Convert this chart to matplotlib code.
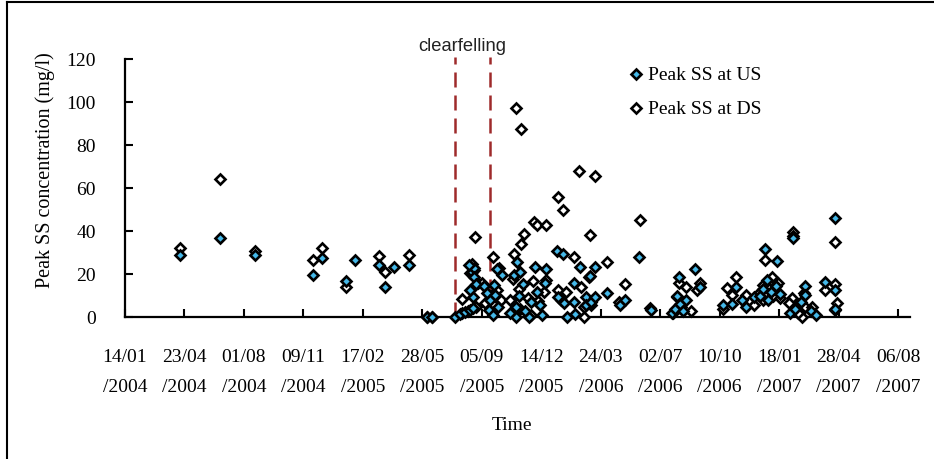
#!/usr/bin/env python3
# -*- coding: utf-8 -*-

'''
Peak SS concentration upstream / downstream, scatter on a day axis
'''

import numpy as np
import matplotlib
matplotlib.use('Agg')
from matplotlib import pyplot as plt
from matplotlib.lines import Line2D

# x values are days after 14/01/2004 (one tick every 100 days)
tick_labels = ['14/01\n/2004', '23/04\n/2004', '01/08\n/2004', '09/11\n/2004',
               '17/02\n/2005', '28/05\n/2005', '05/09\n/2005', '14/12\n/2005',
               '24/03\n/2006', '02/07\n/2006', '10/10\n/2006', '18/01\n/2007',
               '28/04\n/2007', '06/08\n/2007']
clearfell_days = [555, 614]

# Peak SS at US (mg/l)
us_day = [93, 159, 218, 316, 332, 372, 387, 427, 438, 453, 478, 508, 516, 555,
          563, 572, 580, 586, 584, 587, 587, 590, 586, 580, 578,
          603, 609, 614, 612, 634, 626, 621, 623, 628, 618,
          654, 659, 665, 670, 662, 657, 657, 679, 682, 690, 693, 701, 708, 707, 698, 673, 648,
          727, 736, 728, 738, 743, 755, 755, 765, 775, 775, 782, 784, 791, 791, 757,
          810, 833, 841, 865, 885,
          920, 925, 931, 934, 939, 959, 967, 944, 929,
          1006, 1021, 1028, 1045, 1037, 1057,
          1077, 1096, 1079, 1068, 1086, 1094, 1102, 1072, 1082,
          1124, 1144, 1144, 1119, 1136, 1127, 1153, 1162,
          1177, 1194, 1194, 1194]
us_ss = [28.8, 37.0, 28.8, 19.8, 27.7, 17.1, 26.8, 24.4, 14.3, 23.3, 24.4, 0, 0, 0,
         1.5, 2.5, 3.5, 4.5, 21.0, 23.0, 18.9, 15.5, 9.6, 12.7, 24.5,
         14.5, 11.2, 8.0, 3.4, 19.7, 22.3, 15.0, 10.4, 5.0, 1.0,
         19.7, 25.9, 21.0, 15.5, 10.0, 5.0, 0, 0, 7.0, 23.5, 12.0, 1.0, 22.3, 16.0, 5.5, 3.0, 2.0,
         30.8, 29.3, 9.6, 6.5, 0, 15.8, 7.3, 23.5, 9.6, 5.7, 19.2, 7.3, 23.5, 9.6, 1.5,
         11.2, 5.7, 8.0, 28.2, 3.4,
         1.9, 4.0, 18.9, 6.0, 3.0, 22.3, 14.0, 8.0, 10.0,
         5.7, 6.2, 14.2, 4.9, 8.0, 9.6,
         31.6, 26.3, 17.3, 10.0, 12.0, 14.5, 11.0, 13.0, 8.0,
         36.7, 14.5, 10.4, 1.9, 7.0, 4.0, 3.0, 1.0,
         16.6, 46.3, 12.7, 4.0]

# Peak SS at DS (mg/l)
ds_day = [93, 159, 218, 316, 332, 372, 427, 438, 478, 508, 516,
          567, 588, 584, 587, 580, 594, 566, 576, 591,
          600, 619, 629, 626, 620, 632, 606,
          654, 666, 671, 658, 666, 652, 662, 648, 665, 677, 686, 688, 692, 708, 708, 695, 682, 704,
          728, 736, 728, 755, 764, 766, 771, 771, 781, 782, 784, 791, 741, 733,
          810, 841, 866, 883, 831,
          928, 931, 944, 967, 922, 935, 951, 961,
          1013, 1020, 1028, 1005, 1045, 1057,
          1077, 1088, 1065, 1073, 1090, 1098, 1082, 1072, 1102,
          1124, 1124, 1122, 1144, 1139, 1131, 1116, 1156, 1141,
          1177, 1194, 1194, 1197, 1194]
ds_ss = [32.4, 64.5, 31.0, 26.8, 32.4, 14.0, 28.3, 21.0, 29.1, 0, 0,
         8.7, 37.2, 25.0, 22.0, 20.5, 15.8, 2.0, 3.0, 5.0,
         15.8, 27.9, 22.8, 12.7, 5.5, 8.0, 6.5,
         29.5, 34.1, 38.8, 97.4, 87.6, 18.0, 13.0, 8.0, 4.0, 9.0, 17.0, 44.5, 43.0, 43.0, 17.3, 7.5, 1.0, 12.0,
         55.8, 49.9, 12.7, 27.9, 68.0, 14.2, 0, 4.9, 18.9, 38.5, 5.7, 65.9, 12.0, 8.0,
         25.9, 15.5, 45.3, 4.5, 7.0,
         9.6, 15.8, 14.3, 15.8, 2.0, 5.0, 3.0, 12.5,
         13.5, 10.4, 18.9, 4.0, 10.4, 5.7,
         26.7, 18.9, 11.0, 8.0, 10.0, 16.0, 14.0, 15.0, 9.0,
         39.7, 38.0, 8.8, 4.9, 0.3, 2.0, 6.5, 5.0, 11.2,
         12.7, 35.2, 15.3, 6.5, 3.4]

GC_blue = '#45B8E8'
GC_red = '#9E2A2B'
serif = ['Liberation Serif', 'DejaVu Serif']

W, H = 934, 459
fig = plt.figure(figsize=(W / 100, H / 100), dpi=100)
# axes placed in pixels: x from 125 to 910, y from 317 (0) to 59 (120)
ax = fig.add_axes([125 / W, 1 - 317.3 / H, (910 - 125) / W, (317.3 - 59.3) / H])

ms, mew = 5.6, 1.9
ax.plot(ds_day, ds_ss, ls='none', marker='D', ms=ms, mfc='white', mec='black',
        mew=mew, clip_on=False, zorder=3)
ax.plot(us_day, us_ss, ls='none', marker='D', ms=ms, mfc=GC_blue, mec='black',
        mew=mew, clip_on=False, zorder=4)

for d in clearfell_days:
    ax.plot([d, d], [0, 121.3], color=GC_red, lw=1.8, dashes=(6, 3.2),
            clip_on=False, zorder=2)
fig.text(462 / W, 1 - 50.7 / H, 'clearfelling', ha='center', va='baseline',
         fontsize=13.2, family=['Liberation Sans', 'DejaVu Sans'], color='#222222')

ax.set_xlim(0, 1320)
ax.set_ylim(0, 120)
ax.set_xticks(np.arange(0, 1301, 100))
ax.set_xticklabels(tick_labels, linespacing=2.0)
ax.set_yticks(np.arange(0, 121, 20))
for lab in ax.get_xticklabels() + ax.get_yticklabels():
    lab.set_family(serif)
    lab.set_fontsize(14)
ax.tick_params(axis='both', direction='in', length=6, width=1.5, colors='black')
ax.tick_params(axis='x', pad=23)
ax.tick_params(axis='y', pad=21)
for s in ['top', 'right']:
    ax.spines[s].set_visible(False)
for s in ['left', 'bottom']:
    ax.spines[s].set_linewidth(1.6)

fig.text(45 / W, 1 - 170 / H, 'Peak SS concentration (mg/l)', rotation=90,
         ha='center', va='center', fontsize=14.5, family=serif)
fig.text(512 / W, 1 - 425 / H, 'Time', ha='center', va='center',
         fontsize=14, family=serif)

handles = [Line2D([], [], ls='none', marker='D', ms=ms, mfc=GC_blue, mec='black', mew=mew),
           Line2D([], [], ls='none', marker='D', ms=ms, mfc='white', mec='black', mew=mew)]
fig.legend(handles, ['Peak SS at US', 'Peak SS at DS'], loc='upper left',
           bbox_to_anchor=(618 / W, 1 - 57 / H), frameon=False, borderpad=0,
           handlelength=0.8, handletextpad=0.25, labelspacing=0.85,
           prop={'family': serif, 'size': 14})

# chart border (only left and top edge show in the crop)
fig.add_artist(Line2D([7 / W, 7 / W], [0, 1 - 2 / H], color='black', lw=1.5))
fig.add_artist(Line2D([7 / W, 1], [1 - 2 / H, 1 - 2 / H], color='black', lw=1.5))

fig.savefig('out.png', dpi=100)
